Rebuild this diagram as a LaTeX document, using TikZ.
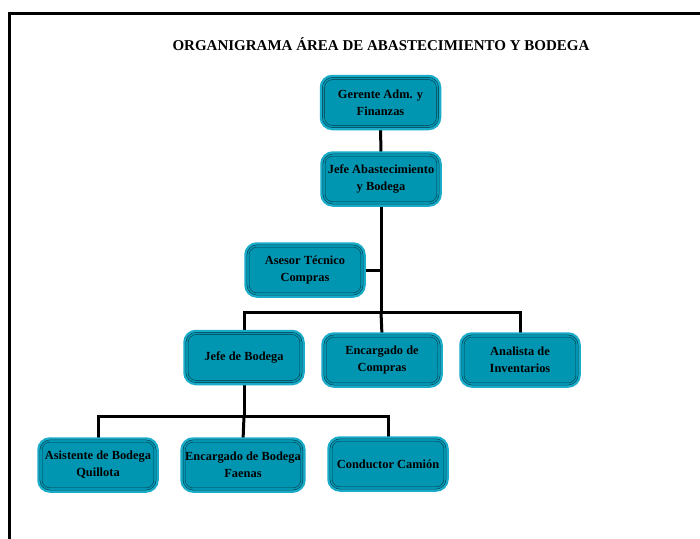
\documentclass[tikz,border=0pt]{standalone}
\usepackage{fontspec}
\setmainfont{Liberation Serif}
\usetikzlibrary{backgrounds}
\begin{document}
\begin{tikzpicture}[x=1pt,y=-1pt,
  orgbox/.style={rounded corners=9pt, minimum width=114pt, minimum height=48pt,
    fill=teal0, draw=edgeline, line width=0.5pt, double=teal0, double distance=1.6pt,
    preaction={draw=halo, line width=7.5pt},
    font=\fontsize{12.4}{17}\selectfont\bfseries, align=center, inner sep=1pt, text=black},
  link/.style={line width=3pt, draw=black}]
\definecolor{teal0}{RGB}{0,150,178}
\definecolor{halo}{RGB}{25,172,200}
\definecolor{edgeline}{RGB}{10,55,70}
\useasboundingbox (0,0) rectangle (700,538);
\draw[line width=3pt] (9,545) -- (9,13) -- (710,13);
\node[font=\fontsize{15}{18}\selectfont\bfseries] (title) at (381,44) {ORGANIGRAMA ÁREA DE ABASTECIMIENTO Y BODEGA};
\node[orgbox] (ger) at (380.5,102.5) {Gerente Adm. y\\Finanzas};
\node[orgbox] (jefe) at (381,179) {Jefe Abastecimiento\\y Bodega};
\node[orgbox] (ases) at (305,270) {Asesor Técnico\\Compras};
\node[orgbox] (jbod) at (244,357.5) {Jefe de Bodega};
\node[orgbox] (ecom) at (382,360) {Encargado de\\Compras};
\node[orgbox] (anal) at (520,360) {Analista de\\Inventarios};
\node[orgbox] (asis) at (98,465) {Asistente de Bodega\\Quillota};
\node[orgbox] (ebod) at (243,465) {Encargado de Bodega\\Faenas};
\node[orgbox] (cond) at (388,464) {Conductor Camión};
\coordinate (bar1) at (381,312);
\coordinate (bar2) at (244,416);
\begin{pgfonlayer}{background}
\fill[white] (0,0) rectangle (700,538);
\draw[link] (ger.south) -- (jefe.north);
\draw[link] (jefe.south) -- (bar1);
\draw[link] (ases.east) -- (ases.east -| bar1);
\draw[link] (jbod.north) |- (bar1) -| (anal.north);
\draw[link] (bar1) -- (ecom.north);
\draw[link] (jbod.south) -- (bar2);
\draw[link] (asis.north) |- (bar2) -| (cond.north);
\draw[link] (bar2) -- (ebod.north);
\end{pgfonlayer}
\end{tikzpicture}
\end{document}
